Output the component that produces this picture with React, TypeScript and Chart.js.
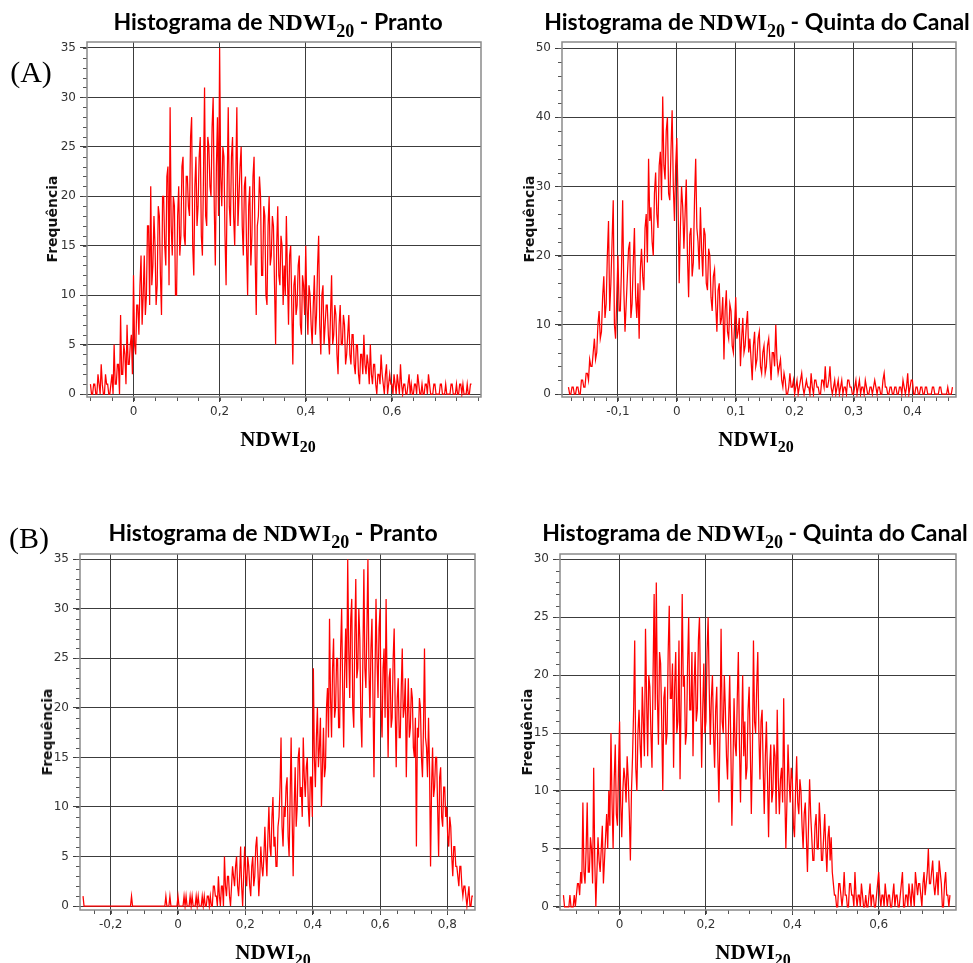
import React, { useEffect, useRef } from "react";
import { Chart, registerables } from "chart.js";

Chart.register(...registerables);

// ---------- DATA ----------
// (A) Pranto
const prantoAStart = -0.1;
const prantoABin = 0.0025;
const prantoAFreq = [
  1, 0, 0, 1, 1, 0, 0, 2, 1, 0, 3, 1, 0, 0, 2, 1, 1, 0, 0, 1,
  2, 0, 5, 1, 1, 3, 3, 0, 8, 2, 2, 5, 4, 1, 7, 3, 3, 5, 6, 2,
  12, 5, 4, 9, 9, 6, 11, 14, 7, 10, 14, 8, 10, 17, 17, 9, 21, 11, 13, 18,
  15, 9, 11, 19, 18, 12, 8, 20, 20, 15, 13, 22, 23, 11, 29, 17, 14, 20, 19, 10,
  10, 18, 21, 14, 16, 23, 24, 16, 15, 22, 22, 19, 18, 26, 28, 15, 12, 21, 24, 17,
  19, 24, 26, 16, 14, 22, 31, 18, 17, 26, 25, 21, 20, 27, 30, 19, 13, 23, 28, 18,
  35, 22, 19, 25, 24, 16, 11, 21, 29, 19, 17, 24, 26, 18, 15, 22, 29, 17, 20, 23,
  25, 17, 14, 21, 22, 15, 10, 19, 21, 13, 16, 22, 24, 14, 8, 17, 18, 22, 20, 12,
  12, 19, 18, 10, 9, 17, 20, 13, 14, 18, 17, 11, 5, 15, 19, 12, 11, 16, 15, 9,
  13, 10, 18, 12, 7, 14, 15, 9, 3, 11, 12, 8, 9, 13, 14, 7, 6, 12, 11, 8,
  15, 9, 6, 11, 10, 7, 5, 9, 12, 6, 8, 13, 16, 7, 4, 10, 11, 5, 7, 9,
  9, 6, 4, 8, 12, 5, 6, 9, 8, 4, 2, 7, 9, 5, 5, 8, 7, 3, 4, 6,
  8, 4, 3, 6, 6, 3, 2, 5, 5, 2, 1, 4, 4, 2, 6, 3, 2, 4, 3, 1,
  5, 2, 1, 3, 3, 1, 0, 2, 2, 1, 4, 2, 1, 0, 2, 3, 0, 1, 2, 1,
  1, 0, 2, 1, 0, 2, 1, 0, 3, 1, 0, 1, 1, 0, 0, 1, 2, 0, 1, 0,
  0, 1, 1, 0, 2, 1, 0, 0, 1, 0, 0, 1, 1, 0, 2, 1, 0, 0, 0, 1,
  1, 0, 0, 0, 0, 1, 1, 0, 0, 0, 1, 0, 0, 0, 0, 1, 1, 0, 0, 0,
  1, 0, 0, 1, 1, 0, 1, 0, 0, 0, 1, 0, 0, 1, 1,
];
const prantoAXTicks = [0, 0.2, 0.4, 0.6];
const prantoAYTicks = [0, 5, 10, 15, 20, 25, 30, 35];

// (A) Quinta do Canal
const quintaAStart = -0.184;
const quintaABin = 0.002;
const quintaAFreq = [
  1, 0, 0, 1, 1, 0, 0, 1, 1, 0, 0, 2, 2, 1, 1, 3, 3, 2, 5, 4,
  4, 6, 8, 5, 6, 10, 12, 8, 9, 14, 17, 11, 13, 20, 25, 12, 16, 22, 28, 10,
  8, 14, 20, 12, 12, 18, 28, 15, 9, 13, 17, 21, 22, 11, 13, 19, 24, 14, 11, 16,
  8, 18, 21, 17, 15, 24, 26, 19, 34, 25, 27, 22, 20, 29, 32, 26, 24, 33, 35, 28,
  43, 33, 31, 38, 40, 29, 28, 35, 41, 30, 25, 33, 37, 28, 16, 24, 30, 27, 21, 26,
  31, 20, 14, 23, 24, 17, 19, 28, 34, 24, 22, 18, 27, 21, 17, 24, 23, 16, 15, 21,
  20, 14, 12, 17, 18, 13, 9, 15, 16, 10, 11, 14, 5, 12, 15, 9, 8, 13, 12, 7,
  6, 10, 14, 8, 9, 11, 4, 8, 11, 6, 7, 10, 12, 6, 8, 5, 2, 7, 9, 4,
  5, 8, 9, 4, 3, 6, 7, 3, 4, 7, 8, 5, 2, 6, 6, 4, 10, 5, 3, 4,
  5, 2, 1, 3, 2, 0, 0, 1, 3, 1, 1, 2, 0, 1, 2, 0, 1, 2, 3, 1,
  0, 1, 2, 1, 1, 0, 3, 1, 0, 2, 2, 1, 1, 0, 0, 2, 2, 1, 4, 1,
  1, 2, 4, 1, 0, 1, 2, 0, 1, 2, 0, 1, 2, 0, 1, 1, 0, 2, 2, 1,
  1, 0, 0, 1, 2, 0, 1, 2, 0, 1, 1, 0, 2, 1, 0, 0, 1, 1, 0, 1,
  2, 1, 0, 1, 1, 0, 0, 2, 3, 1, 1, 0, 0, 1, 1, 0, 0, 1, 1, 0,
  0, 1, 1, 0, 2, 1, 0, 1, 3, 0, 1, 2, 2, 0, 0, 1, 1, 0, 0, 1,
  1, 0, 0, 1, 1, 0, 0, 0, 0, 1, 1, 0, 0, 0, 0, 1, 1, 0, 0, 0,
  0, 0, 1, 0, 0, 0, 1,
];
const quintaAXTicks = [-0.1, 0, 0.1, 0.2, 0.3, 0.4];
const quintaAYTicks = [0, 10, 20, 30, 40, 50];

// (B) Pranto
const prantoBStart = -0.282;
const prantoBBin = 0.003;
const prantoBFreq = [
  1, 0, 0, 0, 0, 0, 0, 0, 0, 0, 0, 0, 0, 0, 0, 0, 0, 0, 0, 0,
  0, 0, 0, 0, 0, 0, 0, 0, 0, 0, 0, 0, 0, 0, 0, 0, 0, 0, 0, 0,
  0, 0, 0, 0, 0, 0, 0, 0, 1, 0, 0, 0, 0, 0, 0, 0, 0, 0, 0, 0,
  0, 0, 0, 0, 0, 0, 0, 0, 0, 0, 0, 0, 0, 0, 0, 0, 0, 0, 0, 0,
  0, 0, 1, 0, 0, 0, 1, 0, 0, 0, 0, 0, 0, 0, 1, 0, 0, 0, 0, 0,
  1, 0, 1, 0, 0, 0, 1, 0, 1, 0, 0, 0, 1, 0, 1, 0, 0, 0, 1, 0,
  1, 0, 0, 1, 1, 0, 1, 0, 0, 2, 2, 1, 1, 0, 3, 1, 0, 2, 2, 0,
  5, 2, 1, 3, 3, 1, 0, 2, 4, 3, 2, 4, 5, 2, 1, 3, 6, 2, 0, 3,
  6, 3, 2, 5, 4, 2, 1, 4, 5, 2, 3, 6, 7, 4, 1, 3, 6, 4, 3, 5,
  8, 5, 3, 7, 10, 6, 5, 9, 11, 6, 7, 4, 4, 8, 9, 12, 17, 8, 6, 10,
  9, 12, 13, 7, 5, 11, 17, 9, 3, 10, 14, 8, 10, 15, 16, 11, 12, 9, 17, 13,
  11, 14, 15, 10, 8, 13, 13, 9, 24, 15, 12, 17, 20, 14, 16, 19, 10, 14, 18, 13,
  14, 20, 22, 17, 29, 21, 17, 24, 27, 19, 20, 25, 25, 18, 18, 26, 30, 22, 16, 24,
  28, 22, 35, 26, 21, 29, 31, 20, 18, 27, 33, 23, 24, 30, 27, 19, 16, 25, 34, 24,
  22, 28, 35, 24, 19, 26, 29, 21, 13, 23, 31, 25, 21, 28, 30, 20, 17, 24, 26, 19,
  31, 22, 15, 23, 24, 18, 19, 25, 28, 20, 14, 21, 23, 17, 17, 22, 26, 19, 20, 23,
  13, 19, 23, 17, 18, 22, 21, 16, 15, 19, 6, 18, 17, 21, 20, 15, 13, 18, 26, 17,
  16, 13, 19, 14, 4, 12, 16, 11, 12, 15, 15, 10, 5, 13, 14, 9, 8, 12, 12, 9,
  10, 7, 6, 9, 8, 5, 3, 6, 6, 4, 4, 3, 2, 4, 4, 2, 1, 2, 2, 1,
  0, 1, 2, 0, 0, 1, 1,
];
const prantoBXTicks = [-0.2, 0, 0.2, 0.4, 0.6, 0.8];
const prantoBYTicks = [0, 5, 10, 15, 20, 25, 30, 35];

// (B) Quinta do Canal
const quintaBStart = -0.13;
const quintaBBin = 0.0025;
const quintaBFreq = [
  1, 0, 0, 0, 0, 0, 1, 0, 0, 0, 1, 0, 1, 2, 2, 1, 3, 2, 9, 3,
  2, 5, 9, 3, 3, 6, 5, 2, 12, 4, 0, 3, 6, 4, 3, 5, 7, 2, 4, 6,
  8, 5, 10, 7, 15, 9, 5, 11, 14, 8, 7, 12, 16, 9, 6, 10, 12, 11, 9, 13,
  11, 8, 4, 10, 13, 17, 23, 12, 10, 15, 17, 14, 12, 19, 16, 13, 24, 18, 13, 20,
  19, 15, 12, 20, 27, 17, 28, 18, 14, 22, 21, 16, 10, 18, 19, 14, 15, 22, 26, 18,
  18, 21, 12, 19, 22, 15, 16, 23, 11, 18, 27, 19, 20, 14, 15, 21, 25, 17, 17, 22,
  13, 19, 22, 16, 17, 23, 25, 18, 12, 17, 21, 15, 16, 22, 25, 19, 14, 18, 20, 15,
  12, 17, 19, 13, 9, 15, 24, 16, 15, 20, 17, 13, 11, 16, 20, 14, 7, 12, 18, 14,
  13, 18, 22, 14, 9, 15, 20, 13, 16, 11, 12, 17, 19, 14, 8, 13, 23, 16, 15, 19,
  22, 15, 11, 16, 17, 12, 8, 13, 16, 11, 6, 12, 14, 9, 10, 14, 13, 8, 17, 11,
  8, 11, 12, 9, 18, 10, 5, 9, 14, 11, 9, 12, 11, 7, 6, 10, 13, 9, 8, 11,
  10, 7, 5, 8, 9, 6, 3, 7, 11, 8, 6, 4, 4, 7, 8, 5, 5, 9, 7, 4,
  4, 6, 8, 5, 3, 6, 7, 4, 6, 3, 2, 1, 1, 0, 0, 2, 2, 1, 0, 1,
  3, 1, 1, 0, 0, 2, 2, 1, 1, 0, 3, 1, 0, 1, 1, 0, 2, 1, 0, 0,
  1, 0, 0, 1, 2, 0, 1, 1, 0, 0, 1, 2, 3, 1, 0, 1, 1, 0, 2, 1,
  0, 1, 1, 0, 0, 1, 2, 0, 1, 1, 0, 0, 1, 2, 3, 0, 0, 1, 1, 0,
  2, 1, 0, 2, 1, 0, 3, 2, 1, 2, 2, 1, 0, 2, 3, 1, 2, 3, 5, 2,
  2, 3, 4, 2, 1, 2, 3, 1, 4, 3, 2, 0, 0, 2, 3, 1, 1, 0, 1,
];
const quintaBXTicks = [0, 0.2, 0.4, 0.6];
const quintaBYTicks = [0, 5, 10, 15, 20, 25, 30];

// ---------- PANELS (layout) ----------
type Panel = {
  start: number; bin: number; freq: number[];
  xTicks: number[]; yTicks: number[];
  xMin: number; xMax: number; yMin: number; yMax: number;
  xMinor: number; yMinor: number;
  frame: { l: number; t: number; r: number; b: number };
};

const panels: Panel[] = [
  { start: prantoAStart, bin: prantoABin, freq: prantoAFreq, xTicks: prantoAXTicks, yTicks: prantoAYTicks,
    xMin: -0.108, xMax: 0.807, yMin: -0.3, yMax: 35.6, xMinor: 0.05, yMinor: 1,
    frame: { l: 87, t: 42, r: 481, b: 397 } },
  { start: quintaAStart, bin: quintaABin, freq: quintaAFreq, xTicks: quintaAXTicks, yTicks: quintaAYTicks,
    xMin: -0.195, xMax: 0.474, yMin: -0.43, yMax: 50.87, xMinor: 0.02, yMinor: 2,
    frame: { l: 562, t: 42, r: 956, b: 397 } },
  { start: prantoBStart, bin: prantoBBin, freq: prantoBFreq, xTicks: prantoBXTicks, yTicks: prantoBYTicks,
    xMin: -0.291, xMax: 0.882, yMin: -0.4, yMax: 35.53, xMinor: 0.05, yMinor: 1,
    frame: { l: 80, t: 554, r: 475, b: 910 } },
  { start: quintaBStart, bin: quintaBBin, freq: quintaBFreq, xTicks: quintaBXTicks, yTicks: quintaBYTicks,
    xMin: -0.138, xMax: 0.779, yMin: -0.28, yMax: 30.46, xMinor: 0.05, yMinor: 1,
    frame: { l: 560, t: 554, r: 956, b: 910 } },
];

const Y_W = 50;
const X_H = 40;
const PAD_T = 10;
const PAD_R = 8;

const fmt = (v: number) => {
  const r = Math.round(v * 100) / 100;
  return r === 0 ? "0" : String(r).replace(".", ",");
};

const framePlugin = {
  id: "frameMinor",
  beforeDatasetsDraw(chart: any, _args: any, opts: any) {
    const { ctx, chartArea: a, scales } = chart;
    const p: Panel = opts.panel;
    ctx.save();
    ctx.strokeStyle = "#555";
    ctx.lineWidth = 1;
    ctx.beginPath();
    const ys = scales.y;
    for (let v = 0; v <= p.yMax + 1e-9; v += p.yMinor) {
      const py = Math.round(ys.getPixelForValue(v)) + 0.5;
      ctx.moveTo(a.left - 4, py);
      ctx.lineTo(a.left, py);
    }
    const xs = scales.x;
    const first = Math.ceil(p.xMin / p.xMinor) * p.xMinor;
    for (let v = first; v <= p.xMax + 1e-9; v += p.xMinor) {
      const px = Math.round(xs.getPixelForValue(v)) + 0.5;
      ctx.moveTo(px, a.bottom);
      ctx.lineTo(px, a.bottom + 4);
    }
    ctx.stroke();
    ctx.strokeStyle = "#8a8a8a";
    ctx.lineWidth = 1.5;
    ctx.strokeRect(a.left, a.top, a.right - a.left, a.bottom - a.top);
    ctx.restore();
  },
};

function Histogram({ p }: { p: Panel }) {
  const ref = useRef<HTMLCanvasElement | null>(null);
  const left = p.frame.l - Y_W;
  const top = p.frame.t - PAD_T;
  const W = p.frame.r - left + PAD_R;
  const H = p.frame.b + X_H - top;

  useEffect(() => {
    if (!ref.current) return;
    const points = p.freq.map((v, i) => ({ x: Math.round((p.start + i * p.bin) * 100000) / 100000, y: v }));
    const tickFont = { family: "'DejaVu Sans', Verdana, sans-serif", size: 12 };
    const chart = new Chart(ref.current, {
      type: "line",
      data: {
        datasets: [
          {
            data: points,
            borderColor: "rgb(255,0,0)",
            borderWidth: 1.25,
            pointRadius: 0,
            tension: 0,
            fill: false,
          } as any,
        ],
      },
      options: {
        animation: false,
        responsive: false,
        maintainAspectRatio: false,
        devicePixelRatio: 1,
        layout: { padding: { top: PAD_T, right: PAD_R, left: 0, bottom: 0 } },
        plugins: {
          legend: { display: false },
          tooltip: { enabled: false },
          title: { display: false },
          frameMinor: { panel: p },
        } as any,
        scales: {
          x: {
            type: "linear",
            min: p.xMin,
            max: p.xMax,
            afterBuildTicks: (ax: any) => {
              ax.ticks = p.xTicks.map((v) => ({ value: v }));
            },
            afterFit: (s: any) => {
              s.height = X_H;
              s.paddingLeft = 0;
              s.paddingRight = 0;
            },
            grid: { color: "#3c3c3c", lineWidth: 1, tickLength: 5, drawTicks: true },
            border: { display: false },
            ticks: {
              font: tickFont,
              color: "#333",
              padding: 3,
              autoSkip: false,
              maxRotation: 0,
              callback: (v: any) => fmt(Number(v)),
            },
          },
          y: {
            type: "linear",
            min: p.yMin,
            max: p.yMax,
            afterBuildTicks: (ax: any) => {
              ax.ticks = p.yTicks.map((v) => ({ value: v }));
            },
            afterFit: (s: any) => {
              s.width = Y_W;
              s.paddingTop = 0;
              s.paddingBottom = 0;
            },
            grid: { color: "#3c3c3c", lineWidth: 1, tickLength: 7, drawTicks: true },
            border: { display: false },
            ticks: {
              font: tickFont,
              color: "#333",
              padding: 4,
              autoSkip: false,
              callback: (v: any) => fmt(Number(v)),
            },
          },
        },
      } as any,
      plugins: [framePlugin as any],
    });
    return () => chart.destroy();
  }, []);

  return (
    <canvas
      ref={ref}
      width={W}
      height={H}
      style={{ position: "absolute", left, top, width: W, height: H }}
    />
  );
}

const serif = "'Liberation Serif', 'Times New Roman', serif";
const titleFont = "Lato, 'Open Sans', sans-serif";

function Centered({ x, y, children, style }: any) {
  return (
    <div
      style={{
        position: "absolute",
        left: x,
        top: y,
        transform: "translate(-50%, -50%)",
        whiteSpace: "nowrap",
        lineHeight: 1,
        ...style,
      }}
    >
      {children}
    </div>
  );
}

function Ndwi({ size }: { size: number }) {
  return (
    <span style={{ fontFamily: serif, fontWeight: 700, fontSize: size }}>
      NDWI
      <span style={{ fontSize: Math.round(size * 0.75), position: "relative", top: Math.round(size * 0.28) }}>20</span>
    </span>
  );
}

function Title({ x, y, place }: { x: number; y: number; place: string }) {
  return (
    <Centered x={x} y={y} style={{ fontFamily: titleFont, fontWeight: 700, fontSize: 23, color: "#000" }}>
      Histograma de <Ndwi size={24} /> - {place}
    </Centered>
  );
}

function YLabel({ x, y }: { x: number; y: number }) {
  return (
    <div
      style={{
        position: "absolute",
        left: x,
        top: y,
        transform: "translate(-50%, -50%) rotate(-90deg)",
        whiteSpace: "nowrap",
        lineHeight: 1,
        fontFamily: "'DejaVu Sans', Verdana, sans-serif",
        fontWeight: 700,
        fontSize: 14,
        color: "#111",
      }}
    >
      Frequência
    </div>
  );
}

export default function App() {
  return (
    <div style={{ position: "absolute", left: 0, top: 0, width: 973, height: 963, background: "#fff", overflow: "hidden" }}>
      {panels.map((p, i) => (
        <Histogram key={i} p={p} />
      ))}
      <Title x={278} y={22} place="Pranto" />
      <Title x={757} y={22} place="Quinta do Canal" />
      <Title x={273} y={533} place="Pranto" />
      <Title x={755} y={533} place="Quinta do Canal" />

      <Centered x={31} y={72} style={{ fontFamily: serif, fontSize: 30 }}>(A)</Centered>
      <Centered x={29} y={538} style={{ fontFamily: serif, fontSize: 30 }}>(B)</Centered>

      <YLabel x={52} y={219} />
      <YLabel x={529} y={219} />
      <YLabel x={47} y={732} />
      <YLabel x={527} y={732} />

      <Centered x={278} y={439}><Ndwi size={21} /></Centered>
      <Centered x={756} y={439}><Ndwi size={21} /></Centered>
      <Centered x={273} y={952}><Ndwi size={21} /></Centered>
      <Centered x={753} y={952}><Ndwi size={21} /></Centered>
    </div>
  );
}
